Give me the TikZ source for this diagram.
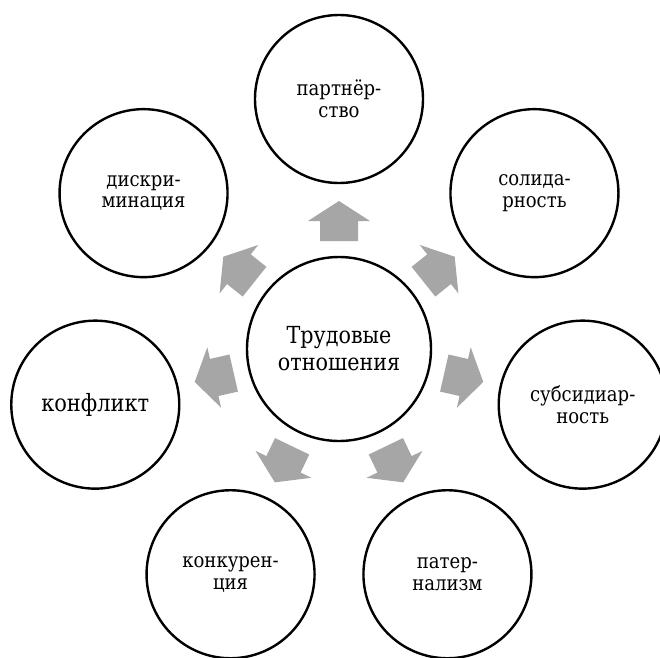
\documentclass[tikz,border=0pt]{standalone}
\usepackage{fontspec}
\setmainfont[FakeStretch=0.88]{DejaVu Serif}
\definecolor{arrowgray}{RGB}{166,166,166}
\tikzset{
  block arrow/.pic={
    \fill [arrowgray]
    (0,-19) -- (20,-19) -- (20,-31) -- (40,0) -- (20,31) -- (20,19) -- (0,19) -- cycle;
  },
  hub/.style={circle, draw, line width=2.4pt, fill=white, minimum size=184pt, inner sep=0pt,
    align=center, font=\fontsize{23.5}{27}\selectfont},
  spoke/.style={circle, draw, line width=2.4pt, fill=white, minimum size=168pt, inner sep=0pt,
    align=center, font=\fontsize{20.5}{21.5}\selectfont},
  big text/.style={font=\fontsize{23.8}{27}\selectfont},
}

\begin{document}
\begin{tikzpicture}[x=1pt, y=1pt]
  \clip (-339,-308) rectangle (321,349);
  \fill [white] (-339,-308) rectangle (321,349);
  % arrows
  \foreach \a in {90, 38.57, -12.86, -64.29, -115.71, -167.14, 141.43}
    \pic [rotate=\a] at (\a:108) {block arrow};
  % circles
  \node [hub] (labour) at (0,0) {Трудовые\\отношения};
  \node [spoke] (partner) at (90:250) {партнёр-\\ство};
  \node [spoke] (solidar) at (38.57:250) {солида-\\рность};
  \node [spoke] (subsid) at (-12.86:250) {субсидиар-\\ность};
  \node [spoke] (patern) at (-64.29:250) {патер-\\нализм};
  \node [spoke] (konkur) at (-115.71:250) {конкурен-\\ция};
  \node [spoke, big text] (konflikt) at (-167.14:250) {конфликт};
  \node [spoke] (diskr) at (141.43:250) {дискри-\\минация};
\end{tikzpicture}
\end{document}
